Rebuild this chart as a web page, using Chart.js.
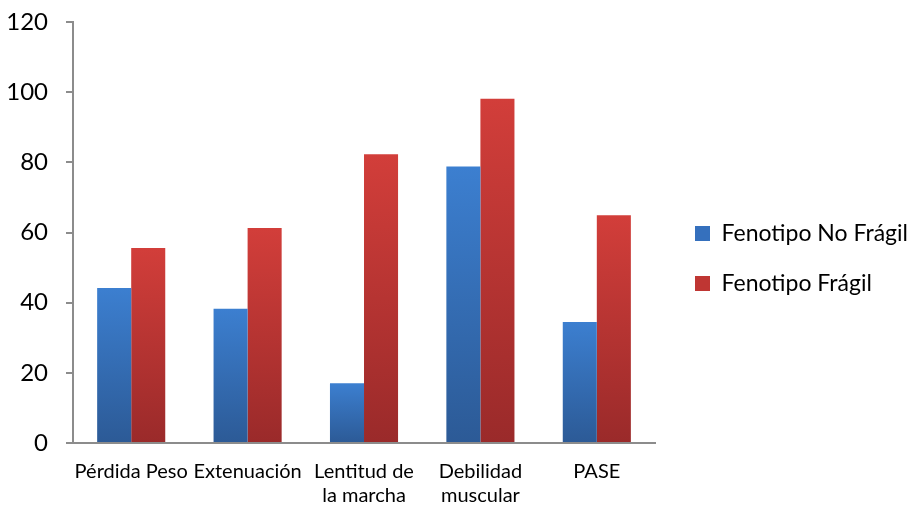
<!DOCTYPE html>
<html>
<head>
<meta charset="utf-8">
<script src="https://cdn.jsdelivr.net/npm/chart.js@4/dist/chart.umd.min.js"></script>
<style>
  html, body { margin: 0; padding: 0; background: #fff; }
  #wrap { width: 918px; height: 505px; }
</style>
</head>
<body>
<div id="wrap"><canvas id="chart"></canvas></div>
<script>
const categories = ['Pérdida Peso', 'Extenuación', ['Lentitud de', 'la marcha'], ['Debilidad', 'muscular'], 'PASE'];
const noFragil = [44.2, 38.3, 17.0, 78.8, 34.5];
const fragil = [55.6, 61.3, 82.3, 98.1, 64.9];
const yTicks = [0, 20, 40, 60, 80, 100, 120];

const FONT = 'Lato, "Open Sans", sans-serif';

// vertical gradient per bar, from its top down to the axis
function barGradient(top, bottom) {
  return function (ctx) {
    const chart = ctx.chart;
    const area = chart.chartArea;
    if (!area || ctx.parsed === undefined) return top;
    const y = chart.scales.y;
    const y0 = y.getPixelForValue(ctx.parsed.y);
    const y1 = y.getPixelForValue(0);
    if (!isFinite(y0) || y1 - y0 < 1) return top;
    const g = chart.ctx.createLinearGradient(0, y0, 0, y1);
    g.addColorStop(0, top);
    g.addColorStop(1, bottom);
    return g;
  };
}

new Chart(document.getElementById('chart').getContext('2d'), {
  type: 'bar',
  data: {
    labels: categories,
    datasets: [{
      label: 'Fenotipo No Frágil',
      data: noFragil,
      backgroundColor: barGradient('#3c7fd0', '#2c5a96'),
      borderWidth: 0
    }, {
      label: 'Fenotipo Frágil',
      data: fragil,
      backgroundColor: barGradient('#d23e3a', '#9a2a2a'),
      borderWidth: 0
    }]
  },
  options: {
    responsive: true,
    maintainAspectRatio: false,
    animation: false,
    datasets: {
      bar: { categoryPercentage: 0.585, barPercentage: 1.0 }
    },
    layout: { padding: 0 },
    plugins: {
      tooltip: { enabled: false },
      legend: {
        position: 'right',
        maxWidth: 400,
        // empty title only nudges the entries down a little
        title: { display: true, text: ' ', padding: 0, font: { size: 10, lineHeight: '12px' } },
        labels: {
          font: { family: FONT, size: 23 },
          color: '#000',
          boxWidth: 15,
          boxHeight: 15,
          padding: 27,
          generateLabels(chart) {
            const cols = ['#3570bd', '#bf3633'];
            return chart.data.datasets.map((ds, i) => ({
              text: ds.label,
              fillStyle: cols[i],
              strokeStyle: cols[i],
              lineWidth: 0,
              hidden: false,
              datasetIndex: i,
              fontColor: '#000'
            }));
          }
        }
      }
    },
    scales: {
      x: {
        grid: { display: false },
        border: { display: true, color: '#8c8c8c', width: 2 },
        ticks: {
          font: { family: FONT, size: 20, lineHeight: '24px' },
          color: '#000',
          maxRotation: 0,
          autoSkip: false,
          padding: 9
        },
        afterFit(axis) { axis.height = 62; }
      },
      y: {
        min: 0,
        max: 120,
        afterBuildTicks(axis) { axis.ticks = yTicks.map(v => ({ value: v })); },
        grid: { display: true, drawOnChartArea: false, drawTicks: true, tickLength: 7, color: '#8c8c8c', lineWidth: 2 },
        border: { display: true, color: '#8c8c8c', width: 2 },
        ticks: {
          font: { family: FONT, size: 24 },
          color: '#000',
          padding: 18
        },
        afterFit(axis) {
          axis.width = 73;
          axis.paddingTop = 22;
          axis.paddingBottom = 0;
        }
      },
      // empty strip between the plot and the legend
      gap: {
        type: 'linear',
        position: 'right',
        display: true,
        grid: { display: false },
        border: { display: false },
        ticks: { display: false },
        afterFit(axis) { axis.width = 13; }
      }
    }
  }
});
</script>
</body>
</html>
